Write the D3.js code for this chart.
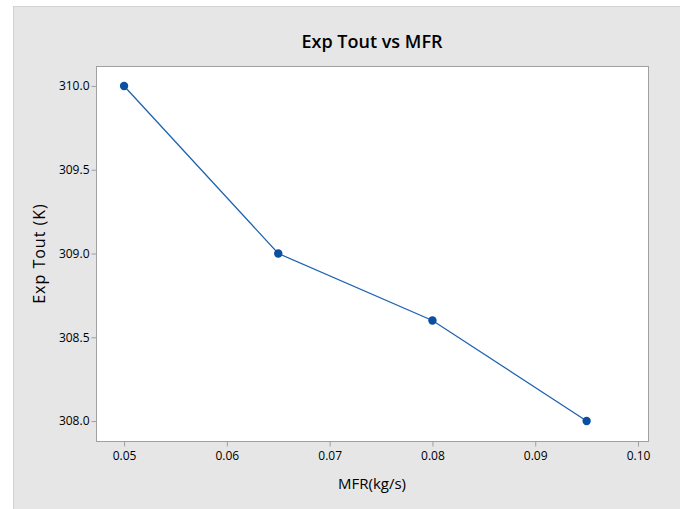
<!DOCTYPE html>
<html>
<head>
<meta charset="utf-8">
<script src="https://cdn.jsdelivr.net/npm/d3@7"></script>
<style>
  body { margin: 0; background: #fff; }
  text { font-family: "Open Sans", "Noto Sans", sans-serif; fill: #000; }
</style>
</head>
<body>
<svg id="chart" width="680" height="509"></svg>
<script>
// data
var mfr = [0.05, 0.065, 0.08, 0.095];
var tout = [310.0, 309.0, 308.6, 308.0];
var xTicks = [0.05, 0.06, 0.07, 0.08, 0.09, 0.10];
var yTicks = [308.0, 308.5, 309.0, 309.5, 310.0];

var svg = d3.select("#chart");

// fond gris du graphique
svg.append("rect")
    .attr("x", 13.5).attr("y", 6.5)
    .attr("width", 680).attr("height", 520)
    .attr("fill", "#e6e6e6")
    .attr("stroke", "#d2d2d2");

var plot = { left: 96, top: 66, right: 648, bottom: 441 };

var x = d3.scaleLinear().domain([0.04727, 0.10097]).range([plot.left, plot.right]);
var y = d3.scaleLinear().domain([307.881, 310.119]).range([plot.bottom, plot.top]);

svg.append("rect")
    .attr("x", plot.left + 0.5).attr("y", plot.top + 0.5)
    .attr("width", plot.right - plot.left).attr("height", plot.bottom - plot.top)
    .attr("fill", "#fff")
    .attr("stroke", "#a0a0a0");

var xAxis = svg.append("g")
    .attr("transform", "translate(0," + (plot.bottom + 0.5) + ")")
    .call(d3.axisBottom(x).tickValues(xTicks).tickFormat(d3.format(".2f")).tickSize(5).tickPadding(5));

var yAxis = svg.append("g")
    .attr("transform", "translate(" + (plot.left + 0.5) + ",0)")
    .call(d3.axisLeft(y).tickValues(yTicks).tickFormat(d3.format(".1f")).tickSize(5).tickPadding(2));

[xAxis, yAxis].forEach(function (ax) {
    ax.select(".domain").remove();
    ax.selectAll(".tick line").attr("stroke", "#a0a0a0");
    ax.selectAll(".tick text")
        .style("font-family", "'Open Sans', 'Noto Sans', sans-serif")
        .style("font-size", "12px")
        .style("font-weight", "500")
        .attr("fill", "#111");
});

var line = d3.line()
    .x(function (d, i) { return x(mfr[i]); })
    .y(function (d) { return y(d); });

svg.append("path")
    .datum(tout)
    .attr("d", line)
    .attr("fill", "none")
    .attr("stroke", "#1f63b0")
    .attr("stroke-width", 1.3);

svg.selectAll("circle.pt")
    .data(tout)
    .enter().append("circle")
    .attr("class", "pt")
    .attr("cx", function (d, i) { return x(mfr[i]); })
    .attr("cy", function (d) { return y(d); })
    .attr("r", 4.2)
    .attr("fill", "#0a4fa0");

var cx = (plot.left + plot.right) / 2;

svg.append("text")
    .attr("x", cx).attr("y", 48)
    .attr("text-anchor", "middle")
    .style("font-size", "18px")
    .style("font-weight", "600")
    .text("Exp Tout vs MFR");

svg.append("text")
    .attr("x", cx).attr("y", 489)
    .attr("text-anchor", "middle")
    .style("font-size", "15px")
    .style("font-weight", "500")
    .text("MFR(kg/s)");

svg.append("text")
    .attr("transform", "translate(45," + ((plot.top + plot.bottom) / 2) + ") rotate(-90)")
    .attr("text-anchor", "middle")
    .style("font-size", "16px")
    .style("font-weight", "500")
    .style("letter-spacing", "1px")
    .text("Exp Tout (K)");
</script>
</body>
</html>
